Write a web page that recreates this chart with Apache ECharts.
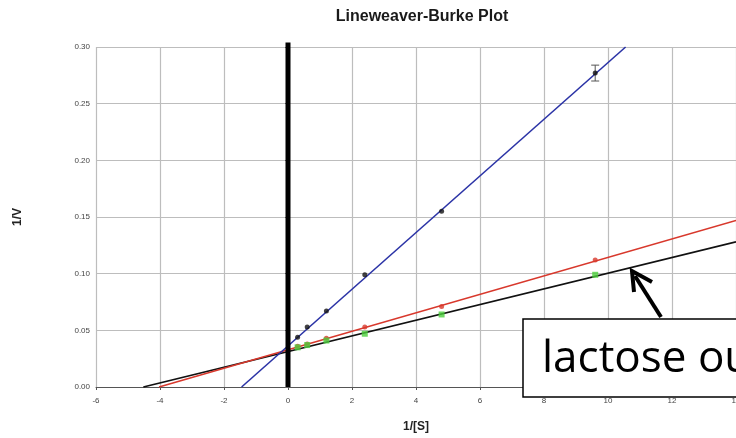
<!DOCTYPE html>
<html>
<head>
<meta charset="utf-8">
<script src="https://cdn.jsdelivr.net/npm/echarts@6/dist/echarts.min.js"></script>
<style>
  html, body { margin: 0; padding: 0; background: #fff; }
  #chart { width: 736px; height: 438px; }
</style>
</head>
<body>
<div id="chart"></div>
<script>
// Reciprocal substrate concentrations, 1/[S]
const invS = [0.3, 0.6, 1.2, 2.4, 4.8, 9.6];
// Reciprocal velocities, 1/V, for each condition
const blueV = [0.044, 0.053, 0.067, 0.099, 0.155, 0.277];
const redV = [0.036, 0.038, 0.043, 0.053, 0.071, 0.112];
const greenV = [0.035, 0.037, 0.041, 0.047, 0.064, 0.099];
// Error bar (half-width) on the highest blue point
const blueErr = [0, 0, 0, 0, 0, 0.007];
// Fitted lines, from the x-intercept to the edge of the plot
const blueFit = [[-1.45, 0], [10.55, 0.30]];
const redFit = [[-4.03, 0], [14, 0.147]];
const blackFit = [[-4.52, 0], [14, 0.128]];
// Vertical y-axis marker at 1/[S] = 0
const zeroLine = [[0, 0], [0, 0.304]];
// Axis ticks
const xTicks = { min: -6, max: 14, step: 2 };
const yTicks = { min: 0, max: 0.30, step: 0.05 };

const pts = (ys) => invS.map((x, i) => [x, ys[i]]);

const chart = echarts.init(document.getElementById('chart'), null, { renderer: 'canvas' });

const sans = 'Liberation Sans, Arial, sans-serif';
const axisFont = { fontFamily: sans, fontSize: 8, color: '#444' };
const nameFont = { fontFamily: sans, fontSize: 12, fontWeight: 'bold', color: '#222' };

chart.setOption({
  animation: false,
  backgroundColor: '#fff',
  title: {
    text: 'Lineweaver-Burke Plot',
    left: 417, top: 4, textAlign: 'center',
    textStyle: { fontFamily: sans, fontSize: 16, fontWeight: 'bold', color: '#1a1a1a' }
  },
  grid: { left: 96, right: 0, top: 47, bottom: 51, containLabel: false, outerBoundsMode: 'none' },
  xAxis: {
    type: 'value', min: xTicks.min, max: xTicks.max, interval: xTicks.step,
    name: '1/[S]', nameLocation: 'middle', nameGap: 34,
    nameTextStyle: nameFont,
    axisLine: { onZero: false, lineStyle: { color: '#555', width: 1 } },
    axisTick: { show: true, length: 3, lineStyle: { color: '#555' } },
    axisLabel: Object.assign({ margin: 10 }, axisFont),
    splitLine: { show: true, lineStyle: { color: '#bdbdbd', width: 1.2 } }
  },
  yAxis: {
    type: 'value', min: yTicks.min, max: yTicks.max, interval: yTicks.step,
    name: '1/V', nameLocation: 'middle', nameGap: 72, nameRotate: 90,
    nameTextStyle: nameFont,
    axisLine: { show: true, lineStyle: { color: '#888', width: 1 } },
    axisTick: { show: true, length: 3, lineStyle: { color: '#666' } },
    axisLabel: Object.assign({ margin: 6, formatter: (v) => v.toFixed(2) }, axisFont),
    splitLine: { show: true, lineStyle: { color: '#bdbdbd', width: 1.2 } }
  },
  series: [
    { type: 'line', data: blackFit, symbol: 'none', lineStyle: { color: '#111', width: 1.8 }, z: 3 },
    { type: 'line', data: redFit, symbol: 'none', lineStyle: { color: '#d8382c', width: 1.6 }, z: 3 },
    { type: 'line', data: blueFit, symbol: 'none', lineStyle: { color: '#2b33a6', width: 1.6 }, z: 3 },
    { type: 'line', data: zeroLine, symbol: 'none', clip: false, lineStyle: { color: '#000', width: 5 }, z: 5 },
    {
      type: 'custom', z: 6,
      data: invS.map((x, i) => [x, blueV[i], blueErr[i]]),
      renderItem: (params, api) => {
        const e = api.value(2);
        if (!e) return null;
        const x = api.value(0), y = api.value(1);
        const hi = api.coord([x, y + e]);
        const lo = api.coord([x, y - e]);
        const w = 4;
        const style = { stroke: '#555', lineWidth: 1 };
        return {
          type: 'group', children: [
            { type: 'line', shape: { x1: hi[0], y1: hi[1], x2: lo[0], y2: lo[1] }, style },
            { type: 'line', shape: { x1: hi[0] - w, y1: hi[1], x2: hi[0] + w, y2: hi[1] }, style },
            { type: 'line', shape: { x1: lo[0] - w, y1: lo[1], x2: lo[0] + w, y2: lo[1] }, style }
          ]
        };
      }
    },
    { type: 'scatter', data: pts(blueV), symbol: 'circle', symbolSize: 5, itemStyle: { color: '#111' }, z: 7 },
    { type: 'scatter', data: pts(redV), symbol: 'circle', symbolSize: 5, itemStyle: { color: '#d8382c' }, z: 7 },
    { type: 'scatter', data: pts(greenV), symbol: 'rect', symbolSize: 6, itemStyle: { color: '#4ccf3c' }, z: 7 }
  ],
  graphic: [
    {
      type: 'rect', z: 100,
      shape: { x: 523, y: 319, width: 230, height: 78 },
      style: { fill: '#fff', stroke: '#000', lineWidth: 1.5 }
    },
    {
      type: 'text', z: 101, x: 542, y: 359,
      style: { text: 'lactose ou', font: '44px "Open Sans", sans-serif', fill: '#000', textVerticalAlign: 'middle' }
    },
    {
      type: 'line', z: 101,
      shape: { x1: 661, y1: 317, x2: 635, y2: 276 },
      style: { stroke: '#000', lineWidth: 4 }
    },
    {
      type: 'polyline', z: 101,
      shape: { points: [[634, 292], [632, 271], [652, 282]] },
      style: { stroke: '#000', lineWidth: 4, fill: null, lineJoin: 'miter' }
    }
  ]
});
</script>
</body>
</html>
